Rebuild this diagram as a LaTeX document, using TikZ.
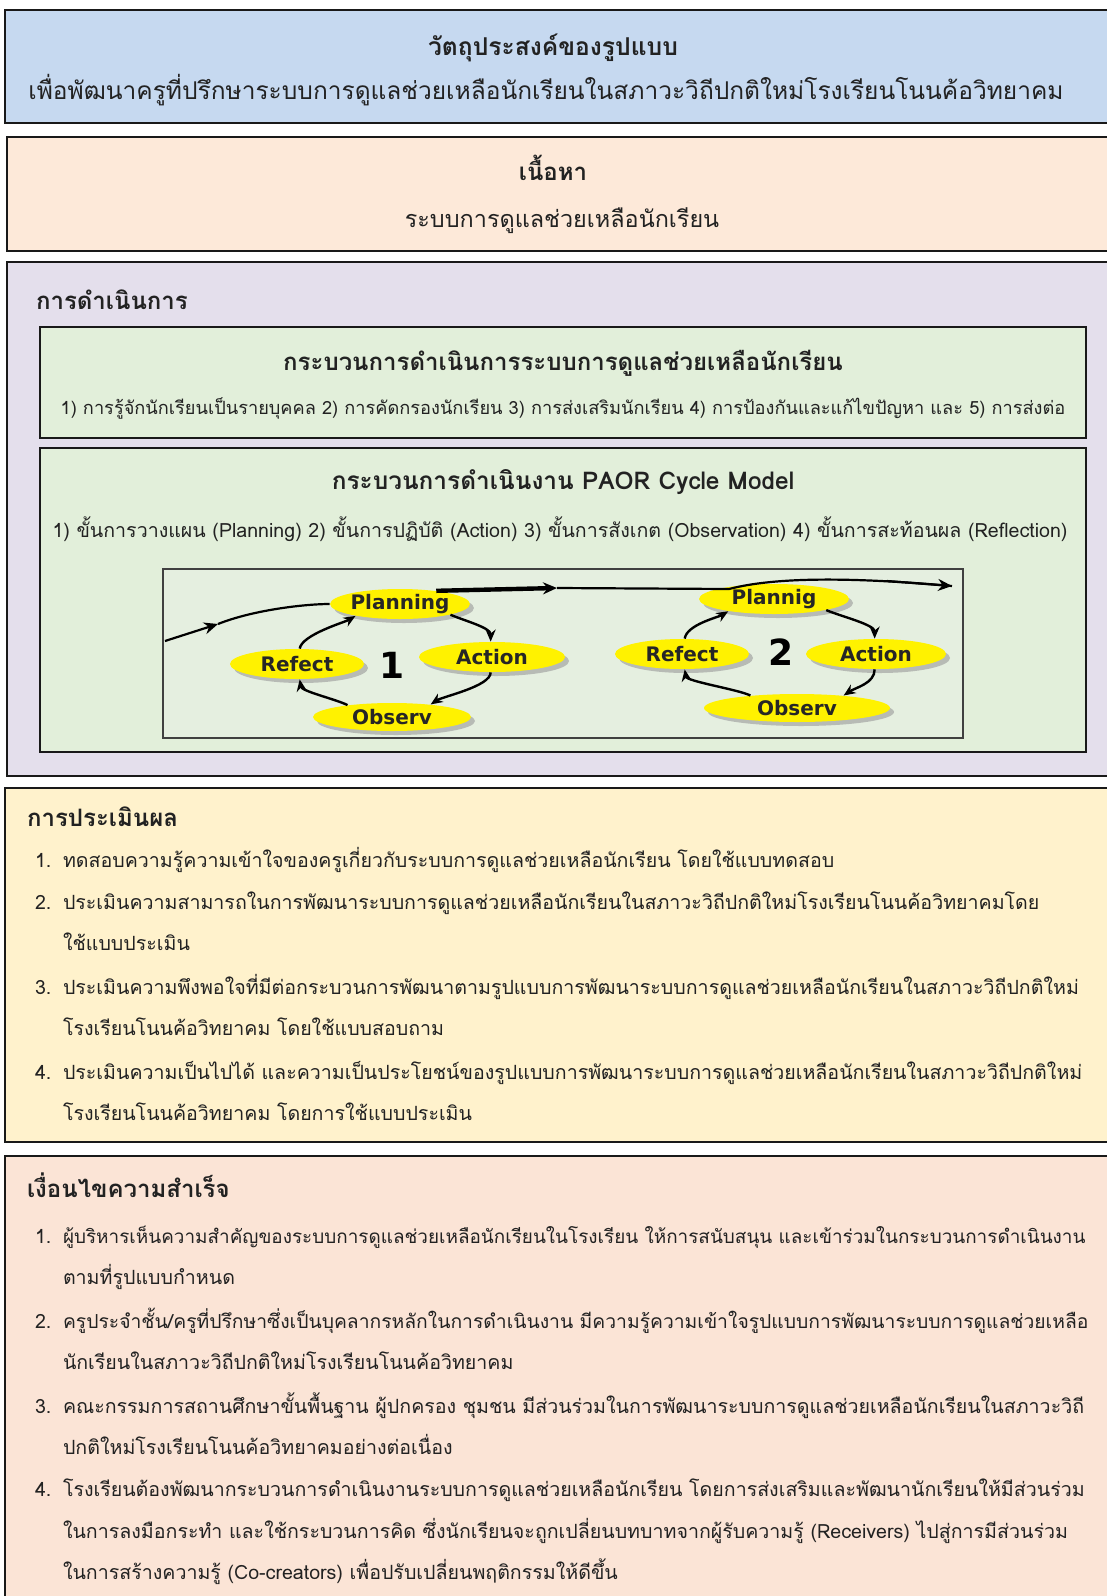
\documentclass[tikz,border=0pt]{standalone}
\usepackage{fontspec}
\setmainfont[Script=Thai]{Loma}
\newfontfamily\paorfont{DejaVu Sans}
\usetikzlibrary{shapes.geometric,shadows,arrows.meta,positioning}
\definecolor{objColor}{RGB}{198,217,240}
\definecolor{contColor}{RGB}{253,233,217}
\definecolor{procColor}{RGB}{228,223,236}
\definecolor{stepColor}{RGB}{226,239,218}
\definecolor{evalColor}{RGB}{255,242,204}
\definecolor{succColor}{RGB}{251,228,214}
\definecolor{insetColor}{RGB}{229,239,224}
\definecolor{textColor}{RGB}{34,34,34}
\tikzset{
  panel/.style={draw=black!90,line width=1.4pt},
  titletext/.style={text=textColor,anchor=base,inner sep=0pt,outer sep=0pt,font=\fontsize{12}{14}\selectfont\bfseries},
  bodytext/.style={text=textColor,anchor=base west,inner sep=0pt,outer sep=0pt,font=\fontsize{9.8}{12}\selectfont},
  headtext/.style={bodytext,font=\fontsize{12}{14}\selectfont\bfseries},
  stage/.style={ellipse,fill=yellow,text=black!85,inner sep=0pt,
    minimum height=15pt,font=\paorfont\bfseries\fontsize{10}{12}\selectfont,
    drop shadow={shadow xshift=2pt,shadow yshift=-2pt,fill=black!40,opacity=.6}},
  flow/.style={draw=black,line width=1.1pt},
  cyc/.style={draw=black,line width=1.2pt,-{Stealth[length=6pt,width=5pt]}},
}
\begin{document}
\begin{tikzpicture}[x=0.5pt,y=-0.5pt]
\path[use as bounding box,fill=white] (0,0) rectangle (1107,1596);
\begin{scope}
\path[clip] (0,0) rectangle (1107,1596);

% objective
\path[panel,fill=objColor] (5,10) rectangle (1130,123);
\node[titletext,font=\fontsize{12.3}{14}\selectfont\bfseries] (objtitle) at (553,55) {วัตถุประสงค์ของรูปแบบ};
\node[titletext,font=\fontsize{12.25}{14}\selectfont] (objtext) at (546,99) {เพื่อพัฒนาครูที่ปรึกษาระบบการดูแลช่วยเหลือนักเรียนในสภาวะวิถีปกติใหม่โรงเรียนโนนค้อวิทยาคม};

% content
\path[panel,fill=contColor] (7,137) rectangle (1130,251);
\node[titletext] (conttitle) at (553,180) {เนื้อหา};
\node[titletext,font=\fontsize{11.7}{14}\selectfont] (conttext) at (562,227) {ระบบการดูแลช่วยเหลือนักเรียน};

% operation
\path[panel,fill=procColor] (7,262) rectangle (1130,776);
\node[headtext] (prochead) at (36,309) {การดำเนินการ};
\path[panel,fill=stepColor] (40,327) rectangle (1086,438);
\node[titletext] (systitle) at (563,370) {กระบวนการดำเนินการระบบการดูแลช่วยเหลือนักเรียน};
\node[titletext,font=\fontsize{9.1}{12}\selectfont] (systext) at (563,414) {1) การรู้จักนักเรียนเป็นรายบุคคล 2) การคัดกรองนักเรียน 3) การส่งเสริมนักเรียน 4) การป้องกันและแก้ไขปัญหา และ 5) การส่งต่อ};
\path[panel,fill=stepColor] (40,448) rectangle (1086,752);
\node[titletext,font=\fontsize{12.2}{14}\selectfont\bfseries] (paortitle) at (563,489) {กระบวนการดำเนินงาน PAOR Cycle Model};
\node[titletext,font=\fontsize{9.8}{12}\selectfont] (paortext) at (560,537) {1) ขั้นการวางแผน (Planning) 2) ขั้นการปฏิบัติ (Action) 3) ขั้นการสังเกต (Observation) 4) ขั้นการสะท้อนผล (Reflection)};

% PAOR cycle picture
\path[draw=black!75,line width=1pt,fill=insetColor] (163,569) rectangle (963,738);
\node[stage,minimum width=68pt] (plan1) at (400,604) {Planning};
\node[stage,minimum width=73pt] (act1) at (492,657) {Action};
\node[stage,minimum width=67pt] (ref1) at (297,664) {Refect};
\node[stage,minimum width=79pt,minimum height=14pt] (obs1) at (392,717) {Observ};
\node[font=\paorfont\bfseries\fontsize{18}{20}\selectfont] (num1) at (392,665) {1};
\node[stage,minimum width=75pt] (plan2) at (774,599) {Plannig};
\node[stage,minimum width=70pt] (act2) at (876,654) {Action};
\node[stage,minimum width=67pt] (ref2) at (682,654) {Refect};
\node[stage,minimum width=93pt,minimum height=14pt] (obs2) at (797,708) {Observ};
\node[font=\paorfont\bfseries\fontsize{18}{20}\selectfont] (num2) at (781,652) {2};

\coordinate (in1) at (165,641);
\coordinate (inmid) at (218,624);
\coordinate (top1) at (557,588);
\coordinate (bend2) at (729,589);
\coordinate (out2) at (952,586);
\draw[flow,-{Stealth[length=7pt,width=6pt]}] (in1) -- (inmid);
\draw[flow] (inmid) .. controls +(35,-14) and +(-25,0) .. (plan1.west);
\draw[flow,line width=2.2pt,-{Stealth[length=7pt,width=6pt]}] (plan1.20) -- (top1);
\draw[flow] (top1) -- (bend2) .. controls (775,577) and (850,577) .. (out2);
\draw[flow,-{Stealth[length=7pt,width=6pt]}] (887,581) -- (out2);

\draw[cyc] (plan1.-12) .. controls +(14,6) and +(0,-14) .. (act1.95);
\draw[cyc] (act1.-95) .. controls +(0,14) and +(12,-8) .. (obs1.18);
\draw[cyc] (obs1.165) .. controls +(-12,-6) and +(2,12) .. (ref1.-80);
\draw[cyc] (ref1.80) .. controls +(2,-14) and +(-10,6) .. (plan1.-165);
\draw[cyc] (plan2.-12) .. controls +(14,6) and +(0,-14) .. (act2.95);
\draw[cyc] (act2.-95) .. controls +(0,14) and +(12,-8) .. (obs2.15);
\draw[cyc] (obs2.165) .. controls +(-12,-6) and +(2,12) .. (ref2.-80);
\draw[cyc] (ref2.80) .. controls +(2,-14) and +(-10,6) .. (plan2.-165);

% evaluation
\path[panel,fill=evalColor] (5,788) rectangle (1130,1142);
\node[headtext] (evalhead) at (27,826) {การประเมินผล};
\node[bodytext] (eval1n) at (35,867) {1.};
\node[bodytext] (eval1) at (63,867) {ทดสอบความรู้ความเข้าใจของครูเกี่ยวกับระบบการดูแลช่วยเหลือนักเรียน โดยใช้แบบทดสอบ};
\node[bodytext] (eval2n) at (35,909) {2.};
\node[bodytext] (eval2) at (63,909) {ประเมินความสามารถในการพัฒนาระบบการดูแลช่วยเหลือนักเรียนในสภาวะวิถีปกติใหม่โรงเรียนโนนค้อวิทยาคมโดย};
\node[bodytext] (eval2b) at (63,950) {ใช้แบบประเมิน};
\node[bodytext] (eval3n) at (35,994) {3.};
\node[bodytext] (eval3) at (63,994) {ประเมินความพึงพอใจที่มีต่อกระบวนการพัฒนาตามรูปแบบการพัฒนาระบบการดูแลช่วยเหลือนักเรียนในสภาวะวิถีปกติใหม่};
\node[bodytext] (eval3b) at (63,1035) {โรงเรียนโนนค้อวิทยาคม โดยใช้แบบสอบถาม};
\node[bodytext] (eval4n) at (35,1079) {4.};
\node[bodytext] (eval4) at (63,1079) {ประเมินความเป็นไปได้ และความเป็นประโยชน์ของรูปแบบการพัฒนาระบบการดูแลช่วยเหลือนักเรียนในสภาวะวิถีปกติใหม่};
\node[bodytext] (eval4b) at (63,1120) {โรงเรียนโนนค้อวิทยาคม โดยการใช้แบบประเมิน};

% success conditions
\path[panel,fill=succColor] (5,1156) rectangle (1130,1640);
\node[headtext] (succhead) at (27,1197) {เงื่อนไขความสำเร็จ};
\node[bodytext] (succ1n) at (35,1243) {1.};
\node[bodytext,font=\fontsize{9.45}{12}\selectfont] (succ1) at (63,1243) {ผู้บริหารเห็นความสำคัญของระบบการดูแลช่วยเหลือนักเรียนในโรงเรียน ให้การสนับสนุน และเข้าร่วมในกระบวนการดำเนินงาน};
\node[bodytext] (succ1b) at (63,1284) {ตามที่รูปแบบกำหนด};
\node[bodytext] (succ2n) at (35,1328) {2.};
\node[bodytext,font=\fontsize{9.65}{12}\selectfont] (succ2) at (63,1328) {ครูประจำชั้น/ครูที่ปรึกษาซึ่งเป็นบุคลากรหลักในการดำเนินงาน มีความรู้ความเข้าใจรูปแบบการพัฒนาระบบการดูแลช่วยเหลือ};
\node[bodytext] (succ2b) at (63,1369) {นักเรียนในสภาวะวิถีปกติใหม่โรงเรียนโนนค้อวิทยาคม};
\node[bodytext] (succ3n) at (35,1413) {3.};
\node[bodytext] (succ3) at (63,1413) {คณะกรรมการสถานศึกษาขั้นพื้นฐาน ผู้ปกครอง ชุมชน มีส่วนร่วมในการพัฒนาระบบการดูแลช่วยเหลือนักเรียนในสภาวะวิถี};
\node[bodytext] (succ3b) at (63,1454) {ปกติใหม่โรงเรียนโนนค้อวิทยาคมอย่างต่อเนื่อง};
\node[bodytext] (succ4n) at (35,1496) {4.};
\node[bodytext] (succ4) at (63,1496) {โรงเรียนต้องพัฒนากระบวนการดำเนินงานระบบการดูแลช่วยเหลือนักเรียน โดยการส่งเสริมและพัฒนานักเรียนให้มีส่วนร่วม};
\node[bodytext] (succ4b) at (63,1538) {ในการลงมือกระทำ และใช้กระบวนการคิด ซึ่งนักเรียนจะถูกเปลี่ยนบทบาทจากผู้รับความรู้ (Receivers) ไปสู่การมีส่วนร่วม};
\node[bodytext] (succ4c) at (63,1579) {ในการสร้างความรู้ (Co-creators) เพื่อปรับเปลี่ยนพฤติกรรมให้ดีขึ้น};
\end{scope}
\end{tikzpicture}
\end{document}
